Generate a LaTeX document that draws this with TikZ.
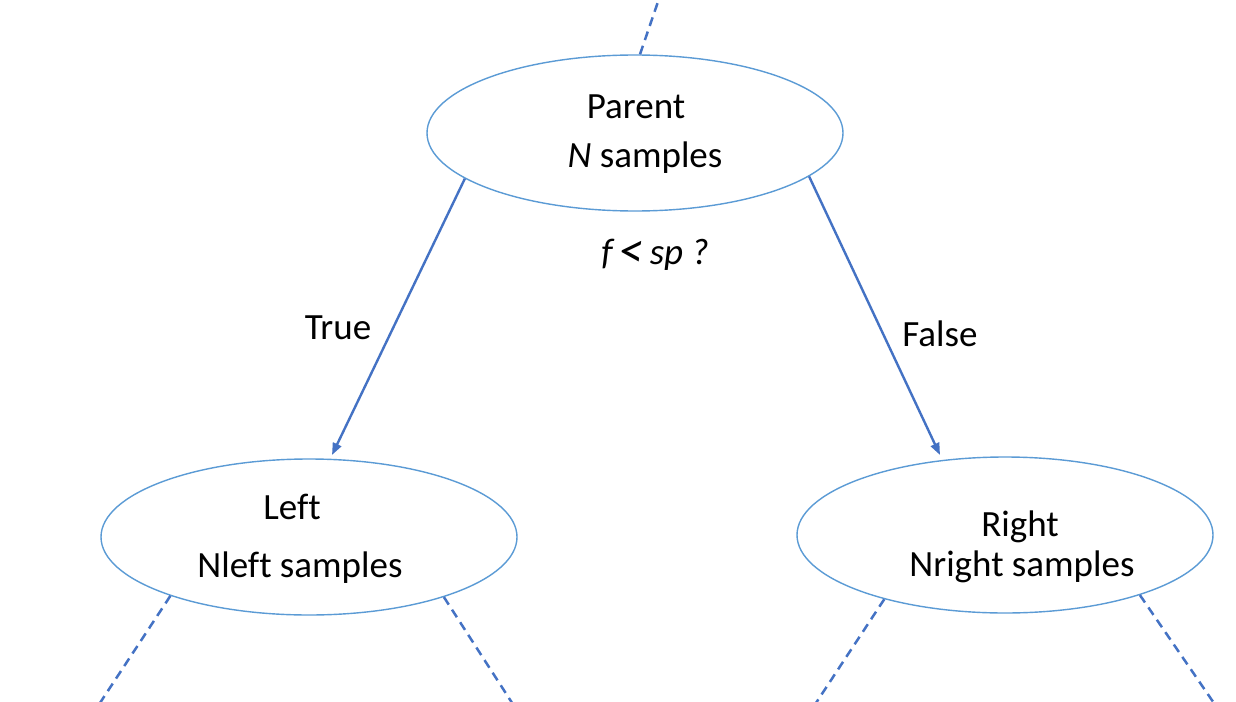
\documentclass[tikz,border=0pt]{standalone}
\usepackage{fontspec}
\setmainfont{Carlito}[Ligatures=NoCommon]
\usetikzlibrary{shapes.geometric,arrows.meta}
\definecolor{ellblue}{HTML}{5B9BD5}
\definecolor{arrblue}{HTML}{4472C4}
\begin{document}
\begin{tikzpicture}[x=1pt,y=-1pt,
  treenode/.style={ellipse,draw=ellblue,line width=1.4pt,minimum width=416pt,minimum height=156pt,inner sep=0pt},
  lbl/.style={font=\fontsize{37}{44}\selectfont,anchor=base,inner sep=0pt,text=black},
  branch/.style={draw=arrblue,line width=2.4pt,-{Triangle[length=12pt,width=9pt]}},
  subtree/.style={draw=arrblue,line width=2.5pt,dash pattern=on 9pt off 6pt}]
\clip (0,0) rectangle (1236,701);
\fill[white] (0,0) rectangle (1236,701);
\node[treenode] (parent) at (635,133) {};
\node[treenode] (left) at (309,537) {};
\node[treenode] (right) at (1005,535) {};
\node[lbl] (ptitle) at (636,118) {Parent};
\node[lbl] (pcount) at (645,167) {\textit{N} samples};
\node[lbl] (test) at (655,264) {\textit{f\,\raisebox{-3pt}{\fontsize{50}{50}\selectfont<}\,sp ?}};
\node[lbl] (truelbl) at (338,339) {True};
\node[lbl] (falselbl) at (940,346) {False};
\node[lbl] (ltitle) at (292,519) {Left};
\node[lbl] (lcount) at (300,577) {Nleft samples};
\node[lbl] (rtitle) at (1020,536) {Right};
\node[lbl] (rcount) at (1022,576) {Nright samples};
\coordinate (ltip) at (332,455);
\coordinate (rtip) at (940,455);
\draw[branch] (parent.195.5) -- (ltip);
\draw[branch] (parent.346) -- (rtip);
\coordinate (topend) at (662,-10);
\coordinate (llend) at (96,709);
\coordinate (lrend) at (516,709);
\coordinate (rlend) at (812,709);
\coordinate (rrend) at (1218,709);
\draw[subtree] (parent.north) ++(5,0) -- (topend);
\draw[subtree] (left.203.6) -- (llend);
\draw[subtree] (left.336.2) -- (lrend);
\draw[subtree] (right.208.4) -- (rlend);
\draw[subtree] (right.336.3) -- (rrend);
\end{tikzpicture}
\end{document}
